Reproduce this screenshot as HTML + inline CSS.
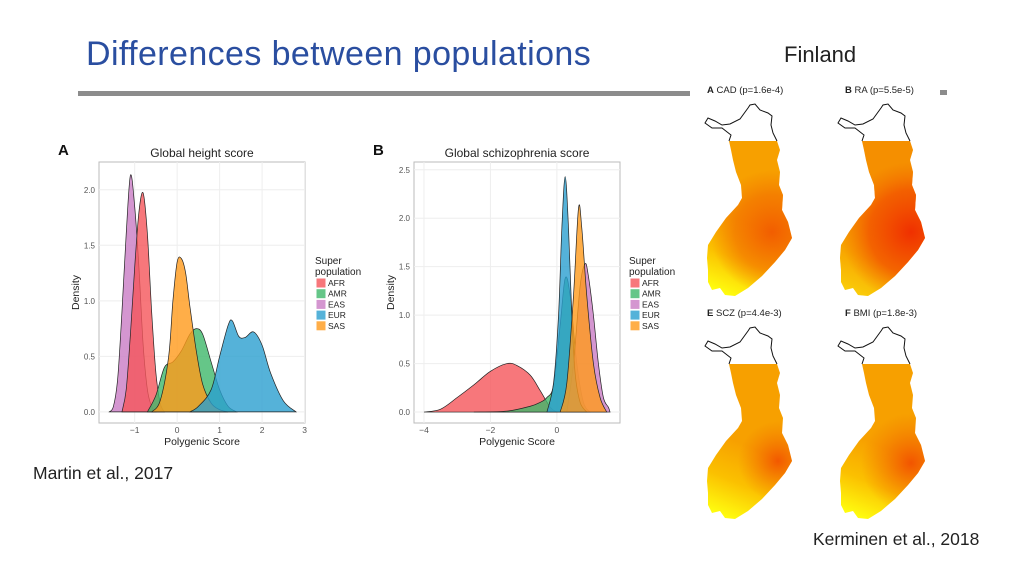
<!DOCTYPE html>
<html><head><meta charset="utf-8"><style>
body{margin:0;width:1024px;height:576px;background:#fff;overflow:hidden;font-family:"Liberation Sans",sans-serif;position:relative}
.abs{position:absolute;white-space:nowrap}
</style></head><body>
<div class="abs" style="left:86px;top:35px;font-size:34px;letter-spacing:0.4px;color:#2a4ea0;font-family:'Liberation Sans',sans-serif">Differences between populations</div>
<div class="abs" style="left:78px;top:91px;width:612px;height:5px;background:#8c8c8c"></div>
<div class="abs" style="left:940px;top:90px;width:7px;height:5px;background:#8c8c8c"></div>
<div class="abs" style="left:784px;top:42px;font-size:22px;color:#222">Finland</div>
<div class="abs" style="left:33px;top:463px;font-size:17.5px;color:#222">Martin et al., 2017</div>
<div class="abs" style="left:813px;top:529px;font-size:17.5px;color:#222">Kerminen et al., 2018</div>
<svg id="charts" width="1024" height="576" style="position:absolute;left:0;top:0" font-family="Liberation Sans, sans-serif"></svg>
<svg width="1024" height="576" style="position:absolute;left:0;top:0" font-family="Liberation Sans, sans-serif">
<defs>
<linearGradient id="lg" gradientUnits="userSpaceOnUse" x1="770" y1="150" x2="712" y2="290">
<stop offset="0" stop-color="#f7a000"/><stop offset="0.5" stop-color="#f7a000"/><stop offset="0.75" stop-color="#fbc000"/><stop offset="1" stop-color="#ffff10"/></linearGradient>
<radialGradient id="rA" gradientUnits="userSpaceOnUse" cx="772" cy="232" r="62"><stop offset="0" stop-color="#f25a00" stop-opacity="0.95"/><stop offset="0.6" stop-color="#f26a00" stop-opacity="0.6"/><stop offset="1" stop-color="#f27000" stop-opacity="0"/></radialGradient>
<radialGradient id="rB" gradientUnits="userSpaceOnUse" cx="778" cy="232" r="70"><stop offset="0" stop-color="#f03000" stop-opacity="1"/><stop offset="0.6" stop-color="#f25000" stop-opacity="0.75"/><stop offset="1" stop-color="#f26a00" stop-opacity="0"/></radialGradient>
<radialGradient id="rE" gradientUnits="userSpaceOnUse" cx="778" cy="238" r="40"><stop offset="0" stop-color="#f25000" stop-opacity="0.9"/><stop offset="1" stop-color="#f27000" stop-opacity="0"/></radialGradient>
<radialGradient id="rF" gradientUnits="userSpaceOnUse" cx="778" cy="240" r="50"><stop offset="0" stop-color="#f25000" stop-opacity="0.95"/><stop offset="1" stop-color="#f27000" stop-opacity="0"/></radialGradient>
<g id="body"><path d="M729,141 L777,141 L780,150 L777,160 L780,172 L779,185 L783,195 L782,210 L788,222 L792,238 L785,250 L775,262 L762,276 L748,288 L735,296 L725,295 L720,288 L712,290 L708,282 L708,270 L707,258 L708,245 L716,232 L726,218 L738,205 L742,198 L741,185 L736,172 L733,160 L731,150 Z"/></g>
<path id="lap" d="M729,141 L731,135 L722,128 L712,128 L705,123 L708,118 L715,121 L722,125 L730,124 L740,119 L748,108 L750,105 L755,104 L760,110 L768,113 L772,116 L771,125 L773,133 L777,141" fill="none" stroke="#111" stroke-width="1"/>
</defs>
<g><use href="#body" fill="url(#lg)"/><use href="#body" fill="url(#rA)"/><use href="#lap"/></g>
<g transform="translate(133,0)"><use href="#body" fill="url(#lg)"/><use href="#body" fill="#f07000" opacity="0.35"/><use href="#body" fill="url(#rB)"/><use href="#lap"/></g>
<g transform="translate(0,223)"><use href="#body" fill="url(#lg)"/><use href="#body" fill="url(#rE)"/><use href="#lap"/></g>
<g transform="translate(133,223)"><use href="#body" fill="url(#lg)"/><use href="#body" fill="url(#rF)"/><use href="#lap"/></g>
<g font-size="9.5" fill="#222">
<text x="707" y="93"><tspan font-weight="bold">A</tspan>  CAD (p=1.6e-4)</text>
<text x="845" y="93"><tspan font-weight="bold">B</tspan>  RA (p=5.5e-5)</text>
<text x="707" y="316"><tspan font-weight="bold">E</tspan>  SCZ (p=4.4e-3)</text>
<text x="845" y="316"><tspan font-weight="bold">F</tspan>  BMI (p=1.8e-3)</text>
</g>
</svg>
<script>
const groups=["AFR","AMR","EAS","EUR","SAS"];
const colors={AFR:"#f5555a",AMR:"#3fb86a",EAS:"#c97cc4",EUR:"#2a9fd0",SAS:"#ff9a1a"};
// Chart A: height score
const aX_EAS=[-1.6,-1.5,-1.4,-1.3,-1.2,-1.1,-1.0,-0.9,-0.8,-0.7,-0.6,-0.5];
const aY_EAS=[0,0.05,0.3,0.9,1.6,2.13,1.85,1.3,0.6,0.2,0.05,0];
const aX_AFR=[-1.3,-1.2,-1.1,-1.0,-0.9,-0.8,-0.7,-0.6,-0.5,-0.4,-0.3];
const aY_AFR=[0,0.2,0.7,1.3,1.8,1.97,1.6,0.9,0.35,0.08,0];
const aX_AMR=[-0.7,-0.5,-0.3,-0.1,0.1,0.3,0.45,0.6,0.8,1.0,1.2,1.4];
const aY_AMR=[0,0.15,0.4,0.45,0.55,0.7,0.75,0.7,0.45,0.2,0.05,0];
const aX_SAS=[-0.6,-0.4,-0.2,-0.1,0.0,0.1,0.2,0.3,0.45,0.6,0.8,1.0,1.2];
const aY_SAS=[0,0.1,0.5,1.0,1.35,1.38,1.25,0.95,0.55,0.25,0.08,0.02,0];
const aX_EUR=[0.3,0.5,0.8,1.0,1.2,1.3,1.45,1.6,1.8,2.0,2.2,2.5,2.8];
const aY_EUR=[0,0.05,0.2,0.5,0.78,0.82,0.68,0.67,0.72,0.6,0.35,0.1,0];
const aXTicks=[-1,0,1,2,3];
const aYTicks=[0,0.5,1,1.5,2];
const aYLabels=["0.0","0.5","1.0","1.5","2.0"];
// Chart B: schizophrenia score
const bX_AFR=[-4,-3.5,-3,-2.5,-2,-1.5,-1.2,-0.8,-0.5,-0.2,0];
const bY_AFR=[0,0.03,0.15,0.28,0.42,0.5,0.48,0.38,0.22,0.05,0];
const bX_AMR=[-2.5,-1.5,-0.8,-0.5,-0.3,-0.1,0.1,0.25,0.4,0.6,0.8,1.0];
const bY_AMR=[0,0.01,0.06,0.1,0.15,0.28,0.9,1.38,1.2,0.5,0.1,0];
const bX_EUR=[-0.3,-0.1,0.05,0.15,0.25,0.35,0.45,0.55,0.7,0.9];
const bY_EUR=[0,0.3,1.0,1.9,2.43,1.9,1.0,0.4,0.1,0];
const bX_SAS=[0.1,0.3,0.5,0.65,0.75,0.9,1.1,1.3,1.5];
const bY_SAS=[0,0.3,1.2,2.1,1.9,1.2,0.5,0.15,0];
const bX_EAS=[0.3,0.5,0.7,0.85,0.95,1.1,1.25,1.4,1.55,1.6];
const bY_EAS=[0,0.5,1.3,1.53,1.4,1.0,0.5,0.15,0.05,0];
const bXTicks=[-4,-2,0];
const bYTicks=[0,0.5,1,1.5,2,2.5];
const bYLabels=["0.0","0.5","1.0","1.5","2.0","2.5"];

const NS="http://www.w3.org/2000/svg";
const svg=document.getElementById("charts");
function mk(tag,attrs,parent){const e=document.createElementNS(NS,tag);for(const k in attrs)e.setAttribute(k,attrs[k]);(parent||svg).appendChild(e);return e;}
function smooth(pts){let d="M"+pts[0][0]+","+pts[0][1];for(let i=0;i<pts.length-1;i++){const p0=pts[Math.max(0,i-1)],p1=pts[i],p2=pts[i+1],p3=pts[Math.min(pts.length-1,i+2)];
const c1=[p1[0]+(p2[0]-p0[0])/6,p1[1]+(p2[1]-p0[1])/6],c2=[p2[0]-(p3[0]-p1[0])/6,p2[1]-(p3[1]-p1[1])/6];d+=" C"+c1+" "+c2+" "+p2;}return d;}
function chart(cfg){
  const {left,top,w,h,xmin,xmax,ymin,ymax,series,xt,yt,yl,title,letter,lx}=cfg;
  const sx=v=>left+(v-xmin)/(xmax-xmin)*w, sy=v=>top+h-(v-ymin)/(ymax-ymin)*h;
  const g=mk("g",{});
  
  
  mk("rect",{x:left,y:top,width:w,height:h,fill:"#fff",stroke:"#bbb","stroke-width":1},g);
  xt.forEach(v=>{mk("line",{x1:sx(v),x2:sx(v),y1:top,y2:top+h,stroke:"#eee"},g);
    const t=mk("text",{x:sx(v),y:top+h+10,"font-size":8.5,fill:"#555","text-anchor":"middle"},g);t.textContent=(v<0?"\u2212"+(-v):v);
    
    });
  yt.forEach((v,i)=>{mk("line",{x1:left,x2:left+w,y1:sy(v),y2:sy(v),stroke:"#eee"},g);
    const t=mk("text",{x:left-4,y:sy(v)+3,"font-size":8,fill:"#555","text-anchor":"end"},g);t.textContent=yl[i];
    
    });
  series.forEach(s=>{const pts=s.x.map((x,i)=>[sx(x),sy(s.y[i])]);
    const p=mk("path",{d:smooth(pts)+" Z",fill:colors[s.k],"fill-opacity":0.8,stroke:"#222","stroke-width":0.7},g);
    
    });
  let t=mk("text",{x:left+w/2,y:top-5,"font-size":12,fill:"#222","text-anchor":"middle"},g);t.textContent=title;
  
  t=mk("text",{x:left-41,y:top-7,"font-size":15,"font-weight":"bold",fill:"#111"},g);t.textContent=letter;
  
  t=mk("text",{x:left+w/2,y:top+h+22,"font-size":10.5,fill:"#222","text-anchor":"middle"},g);t.textContent="Polygenic Score";
  
  t=mk("text",{x:0,y:0,"font-size":10.5,fill:"#222","text-anchor":"middle",transform:`translate(${left-20},${top+h/2}) rotate(-90)`},g);t.textContent="Density";
  
  t=mk("text",{x:lx,y:264,"font-size":10,fill:"#222"},g);t.textContent="Super";
  
  t=mk("text",{x:lx,y:275,"font-size":10,fill:"#222"},g);t.textContent="population";
  groups.forEach((k,i)=>{const r=mk("rect",{x:lx+1,y:278+i*10.7,width:10,height:10,fill:colors[k],"fill-opacity":0.8,stroke:"#fff"},g);
    
    const tt=mk("text",{x:lx+13,y:286+i*10.7,"font-size":8.5,fill:"#222"},g);tt.textContent=k;
    });
}
chart({name:"height-score-chart",left:99,top:162,w:206,h:261,xmin:-1.84,xmax:3.01,ymin:-0.1,ymax:2.25,xt:aXTicks,yt:aYTicks,yl:aYLabels,title:"Global height score",letter:"A",lx:315,
 series:[{k:"EAS",x:aX_EAS,y:aY_EAS},{k:"AFR",x:aX_AFR,y:aY_AFR},{k:"AMR",x:aX_AMR,y:aY_AMR},{k:"SAS",x:aX_SAS,y:aY_SAS},{k:"EUR",x:aX_EUR,y:aY_EUR}]});
chart({name:"schizophrenia-score-chart",left:414,top:162,w:206,h:261,xmin:-4.3,xmax:1.9,ymin:-0.113,ymax:2.58,xt:bXTicks,yt:bYTicks,yl:bYLabels,title:"Global schizophrenia score",letter:"B",lx:629,
 series:[{k:"AFR",x:bX_AFR,y:bY_AFR},{k:"AMR",x:bX_AMR,y:bY_AMR},{k:"EAS",x:bX_EAS,y:bY_EAS},{k:"EUR",x:bX_EUR,y:bY_EUR},{k:"SAS",x:bX_SAS,y:bY_SAS}]});
</script>
</body></html>
